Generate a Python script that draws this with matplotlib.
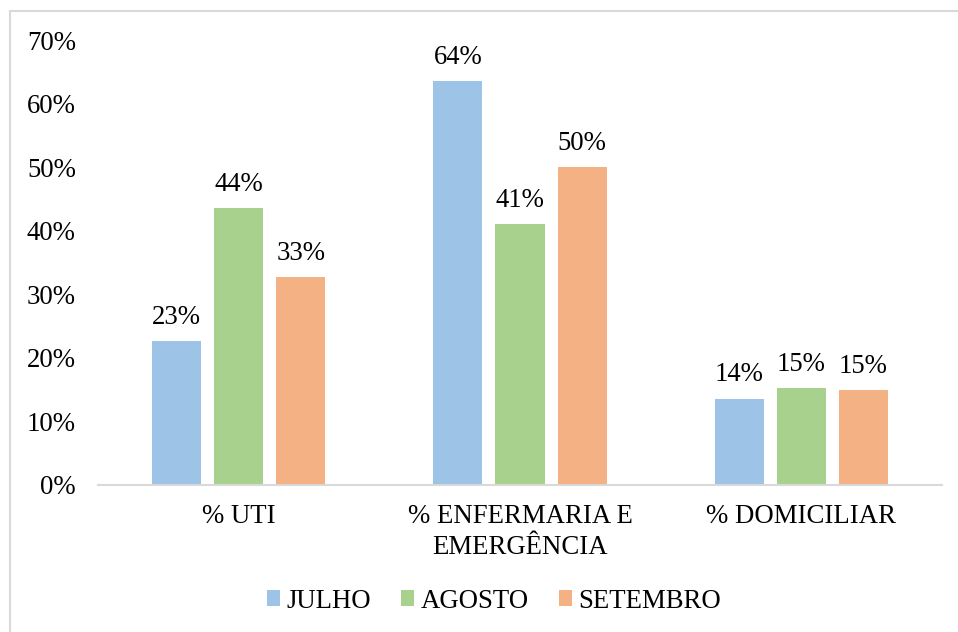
import numpy as np
import matplotlib.pyplot as plt
from matplotlib.lines import Line2D
from matplotlib.patches import Patch

plt.rcParams['font.family'] = ['Liberation Serif', 'DejaVu Serif']

categories = ['% UTI', '% ENFERMARIA E\nEMERGÊNCIA', '% DOMICILIAR']
meses = ['JULHO', 'AGOSTO', 'SETEMBRO']
julho = [0.226, 0.636, 0.136]
agosto = [0.435, 0.410, 0.153]
setembro = [0.327, 0.500, 0.150]
cores = ['#9DC3E6', '#A9D18E', '#F4B183']

W, H = 958, 632
fs = 19.3
fig = plt.figure(figsize=(W / 100, H / 100), dpi=100)
# eixo posicionado em pixels
ax = fig.add_axes([98 / W, (H - 485) / H, 844 / W, 445 / H])

x = np.arange(len(categories))
largura = 0.175
passo = 0.221
for i, (vals, mes, cor) in enumerate(zip([julho, agosto, setembro], meses, cores)):
    bars = ax.bar(x + (i - 1) * passo, vals, largura, color=cor, label=mes, zorder=2)
    ax.bar_label(bars, labels=['%d%%' % round(v * 100) for v in vals],
                 padding=8, fontsize=fs, color='#000000')

ax.set_xlim(-0.5, 2.5)
ax.set_ylim(0, 0.7)
ax.set_yticks(np.arange(0, 0.71, 0.1))
ax.set_yticklabels(['%d%%' % round(t * 100) for t in np.arange(0, 0.71, 0.1)])
ax.set_xticks(x)
ax.set_xticklabels(categories, linespacing=1.3)
ax.tick_params(axis='both', length=0, labelsize=fs, colors='#000000')
ax.tick_params(axis='y', pad=16)
ax.tick_params(axis='x', pad=14)
for s in ['top', 'right', 'left']:
    ax.spines[s].set_visible(False)
ax.spines['bottom'].set_color('#D9D9D9')
ax.spines['bottom'].set_linewidth(1.5)

handles = [Patch(facecolor=c, edgecolor='none') for c in cores]
fig.legend(handles, meses, loc='center', bbox_to_anchor=(494 / W, 1 - 601 / H),
           ncol=3, frameon=False, fontsize=fs, handlelength=0.5, handleheight=0.5,
           handletextpad=0.25, columnspacing=1.1)

# moldura do gráfico (só topo e esquerda visíveis)
fig.add_artist(Line2D([9.5 / W, 1], [1 - 10.5 / H] * 2, color='#D9D9D9', lw=1.5))
fig.add_artist(Line2D([9.5 / W] * 2, [0, 1 - 10.5 / H], color='#D9D9D9', lw=1.5))

fig.savefig('out.png', dpi=100)
